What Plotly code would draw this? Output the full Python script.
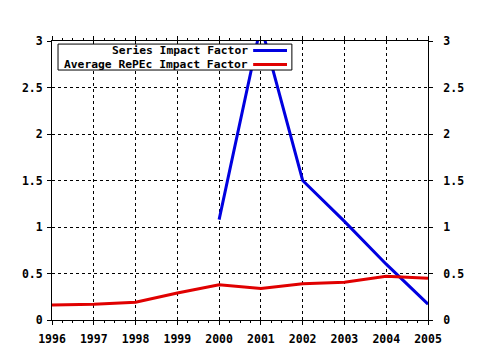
import plotly.graph_objects as go

years_series = [2000, 2001, 2002, 2003, 2004, 2005]
series_if = [1.08, 3.17, 1.50, 1.06, 0.60, 0.17]

years_avg = [1996, 1997, 1998, 1999, 2000, 2001, 2002, 2003, 2004, 2005]
avg_if = [0.16, 0.17, 0.19, 0.29, 0.38, 0.34, 0.39, 0.405, 0.47, 0.45]

legend_labels = ["Series Impact Factor", "Average RePEc Impact Factor"]
colors = ["#0000e0", "#e00000"]

font = dict(family="DejaVu Sans Mono", size=11.5, color="black", weight="bold")
legend_font = dict(family="DejaVu Sans Mono", size=11.3, color="black", weight="bold")

fig = go.Figure()
fig.add_trace(go.Scatter(x=years_series, y=series_if, mode="lines",
                         line=dict(color=colors[0], width=3), name=legend_labels[0]))
fig.add_trace(go.Scatter(x=years_avg, y=avg_if, mode="lines",
                         line=dict(color=colors[1], width=3), name=legend_labels[1]))
fig.add_trace(go.Scatter(x=years_avg, y=avg_if, mode="lines", yaxis="y2",
                         line=dict(width=0), opacity=0, hoverinfo="skip", showlegend=False))

axis_common = dict(showline=True, linecolor="black", linewidth=1,
                   ticks="outside", ticklen=4, tickcolor="black",
                   showgrid=True, gridcolor="black", griddash="dot", gridwidth=1,
                   zeroline=False, tickfont=font, automargin=False)

fig.update_layout(
    width=480, height=350,
    margin=dict(l=52, r=52, t=41, b=30),
    plot_bgcolor="white", paper_bgcolor="white",
    showlegend=False,
    xaxis=dict(range=[1996, 2005], dtick=1, tick0=1996, mirror="ticks",
               ticklabelstandoff=4,
               minor=dict(dtick=0.25, ticks="outside", ticklen=2, tickcolor="black", showgrid=False),
               **axis_common),
    yaxis=dict(range=[0, 3], dtick=0.5, mirror=True, ticklabelstandoff=2, **axis_common),
    yaxis2=dict(range=[0, 3], dtick=0.5, overlaying="y", side="right", matches="y",
                showline=True, linecolor="black", ticks="outside", ticklen=4,
                ticklabelstandoff=8, automargin=False,
                tickcolor="black", showgrid=False, zeroline=False, tickfont=font),
)

# legend box (decoration)
fig.add_shape(type="rect", xref="paper", yref="paper", x0=0.016, x1=0.638, y0=0.896, y1=0.989,
              line=dict(color="black", width=1), fillcolor="white", layer="above")
row_y = [0.966, 0.916]
for lbl, col, yy in zip(legend_labels, colors, row_y):
    fig.add_annotation(x=0.515, y=yy, xref="paper", yref="paper", text=lbl, showarrow=False,
                       xanchor="right", yanchor="middle", font=legend_font, xshift=3,
                       borderpad=0)
    fig.add_shape(type="line", xref="paper", yref="paper", x0=0.535,
                  x1=0.625, y0=yy, y1=yy, line=dict(color=col, width=3), layer="above")

fig.write_html("out.html")
